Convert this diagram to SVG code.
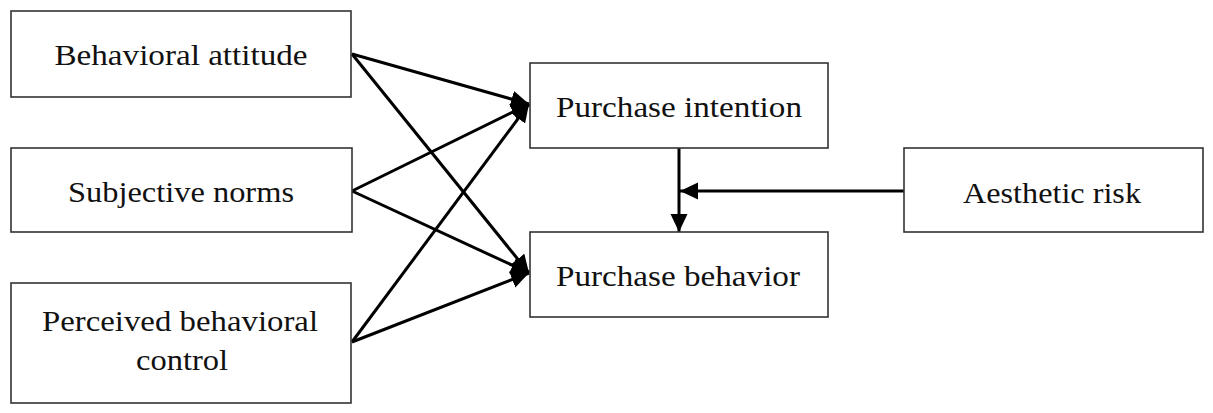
<svg xmlns="http://www.w3.org/2000/svg" width="1213" height="413" viewBox="0 0 1213 413">
<style>
.box{fill:#fff;stroke:#333;stroke-width:1.6}
.lbl{font-family:"Liberation Serif","Times New Roman",serif;font-size:29px;fill:#111;text-anchor:middle}
.edge{stroke:#000;stroke-width:3;fill:none}
</style>
<defs>
<marker id="ah" markerUnits="userSpaceOnUse" markerWidth="20" markerHeight="18" refX="18" refY="8.5" orient="auto">
<path d="M0,0 L18,8.5 L0,17 z" fill="#000"/>
</marker>
</defs>
<rect width="1213" height="413" fill="#fff"/>
<g id="connectors">
<line class="edge" x1="352" y1="54" x2="529" y2="104" marker-end="url(#ah)"/>
<line class="edge" x1="352" y1="54" x2="529" y2="273" marker-end="url(#ah)"/>
<line class="edge" x1="352" y1="191" x2="529" y2="104" marker-end="url(#ah)"/>
<line class="edge" x1="352" y1="191" x2="529" y2="273" marker-end="url(#ah)"/>
<line class="edge" x1="352" y1="342" x2="529" y2="104" marker-end="url(#ah)"/>
<line class="edge" x1="352" y1="342" x2="529" y2="273" marker-end="url(#ah)"/>
<line class="edge" x1="679" y1="148" x2="679" y2="232" marker-end="url(#ah)"/>
<line class="edge" x1="904" y1="191" x2="680" y2="191" marker-end="url(#ah)"/>
</g>
<g id="behavioral-attitude">
<rect class="box" x="11" y="11" width="340" height="86"/>
<text class="lbl" x="181" y="65" textLength="253" lengthAdjust="spacingAndGlyphs">Behavioral attitude</text>
</g>
<g id="subjective-norms">
<rect class="box" x="11" y="148" width="341" height="84"/>
<text class="lbl" x="181" y="202" textLength="226" lengthAdjust="spacingAndGlyphs">Subjective norms</text>
</g>
<g id="perceived-behavioral-control">
<rect class="box" x="11" y="283" width="340" height="120"/>
<text class="lbl" x="180" y="331" textLength="276" lengthAdjust="spacingAndGlyphs">Perceived behavioral</text>
<text class="lbl" x="182" y="370" textLength="92" lengthAdjust="spacingAndGlyphs">control</text>
</g>
<g id="purchase-intention">
<rect class="box" x="530" y="63" width="298" height="85"/>
<text class="lbl" x="679" y="117" textLength="246" lengthAdjust="spacingAndGlyphs">Purchase intention</text>
</g>
<g id="purchase-behavior">
<rect class="box" x="530" y="232" width="298" height="85"/>
<text class="lbl" x="678" y="286" textLength="244" lengthAdjust="spacingAndGlyphs">Purchase behavior</text>
</g>
<g id="aesthetic-risk">
<rect class="box" x="904" y="148" width="299" height="84"/>
<text class="lbl" x="1052" y="203" textLength="178" lengthAdjust="spacingAndGlyphs">Aesthetic risk</text>
</g>
</svg>
